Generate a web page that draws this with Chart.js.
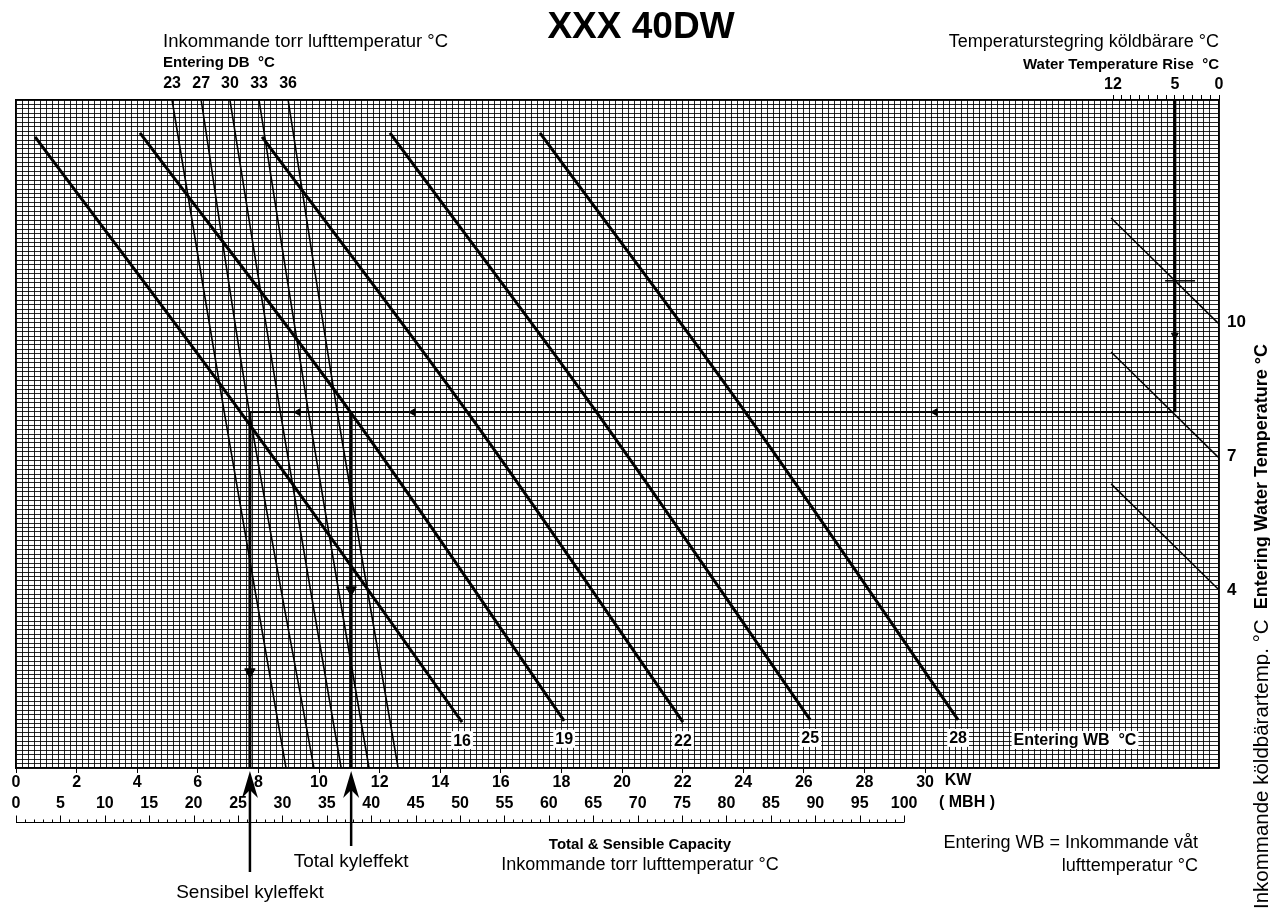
<!DOCTYPE html>
<html><head><meta charset="utf-8">
<script src="https://cdn.jsdelivr.net/npm/chart.js@4.4.1/dist/chart.umd.min.js"></script>
<style>html,body{margin:0;padding:0;background:#fff;overflow:hidden}</style>
</head><body>
<canvas id="c" width="1270" height="913"></canvas>
<script>
// ---------- data ----------
const kwLabelTicks  = [0,2,4,6,8,10,12,14,16,18,20,22,24,26,28,30];
const mbhLabelTicks = [0,5,10,15,20,25,30,35,40,45,50,55,60,65,70,75,80,85,90,95,100];
const riseTickValues  = [0,1,2,3,4,5,6,7,8,9,10,11,12];
const riseLabelValues = [12,5,0];
const ewtTickValues = [4,7,10];

// Entering DB lines (thin): x in kW at y = dbY
const dbLabels = ['23','27','30','33','36'];
const dbX = [[5.15,6.86,8.91],[6.11,7.69,9.83],[7.06,8.71,10.73],[8.02,9.64,11.65],[8.98,10.59,12.61]];
const dbY = [15.0, 8.04, 0.0];

// Entering WB lines (thick)
const wbLabels = ['16','19','22','25','28'];
const wbX = [[0.63,7.53,14.72],[4.09,11.06,18.09],[8.12,14.98,22.01],[12.34,19.18,26.21],[17.29,24.09,31.09]];
const wbY = [[14.17,7.88,1.03],[14.26,7.97,1.06],[14.17,7.91,1.03],[14.26,7.97,1.08],[14.26,7.97,1.08]];

// Entering water temperature lines (right)
const ewtLabels = [10,7,4];
const ewtX = [36.14, 39.67];
const ewtY = [[12.35,9.99],[9.34,6.98],[6.38,4.02]];

// Example reading path
const exRise = 5;
const exTopY = 15.0;
const exEwtY = 7.99;
const exRightKW = 38.22;
const exSensKW = 7.72;
const exTotKW = 11.06;
const exMarkY = 10.94;
const exMarkX = [37.92, 38.91];
const arrowsDown = [{x:7.72,y:2.16},{x:11.06,y:4.0}];
const arrowsLeft = [{x:30.33,y:7.99},{x:13.10,y:7.99},{x:9.31,y:7.99}];
const riseArrow  = [{x:5,y:9.72}];

// scale ranges
const X_MAX = 39.70;        // kW at right border
const MBH_PER_KW = 3.412;
const RISE_MAX = 136.2;     // rise axis value at left border (reversed)

// ---------- chart ----------
const FONT = "'Liberation Sans', Arial, sans-serif";
const GRID = 'rgba(0,0,0,0.85)';
const near = (arr, v) => arr.some(t => Math.abs(t - v) < 1e-6);

const datasets = [];
wbX.forEach((xs,i)=>datasets.push({data:xs.map((x,j)=>({x,y:wbY[i][j]})),showLine:true,borderColor:'#000',borderWidth:3,pointRadius:0,tension:0.35}));
dbX.forEach((xs)=>datasets.push({data:xs.map((x,j)=>({x,y:dbY[j]})),showLine:true,borderColor:'#000',borderWidth:1.6,pointRadius:0,tension:0.35}));
ewtY.forEach((ys)=>datasets.push({data:ewtX.map((x,j)=>({x,y:ys[j]})),showLine:true,borderColor:'#000',borderWidth:1.5,pointRadius:0}));
// example path
datasets.push({xAxisID:'xRise',data:[{x:exRise,y:exTopY},{x:exRise,y:exEwtY}],showLine:true,borderColor:'#000',borderWidth:3,pointRadius:0});
datasets.push({data:[{x:exRightKW,y:exEwtY},{x:exSensKW,y:exEwtY}],showLine:true,borderColor:'#000',borderWidth:1.8,pointRadius:0});
datasets.push({data:[{x:exSensKW,y:exEwtY},{x:exSensKW,y:0}],showLine:true,borderColor:'#000',borderWidth:3,pointRadius:0});
datasets.push({data:[{x:exTotKW,y:exEwtY},{x:exTotKW,y:0}],showLine:true,borderColor:'#000',borderWidth:3,pointRadius:0});
datasets.push({data:exMarkX.map(x=>({x,y:exMarkY})),showLine:true,borderColor:'#000',borderWidth:1.5,pointRadius:0});
datasets.push({data:arrowsDown,pointStyle:'triangle',pointRadius:6,pointRotation:180,backgroundColor:'#000',borderColor:'#000'});
datasets.push({data:arrowsLeft,pointStyle:'triangle',pointRadius:4,pointRotation:270,backgroundColor:'#000',borderColor:'#000'});
datasets.push({xAxisID:'xRise',data:riseArrow,pointStyle:'triangle',pointRadius:4,pointRotation:180,backgroundColor:'#000',borderColor:'#000'});

const textPlugin = {
  id:'texts',
  afterDatasetsDraw(chart){
    const {ctx,scales:{x,y}} = chart;
    ctx.save();
    const box = (s,px,py,font)=>{
      ctx.font=font; const w=ctx.measureText(s).width;
      ctx.fillStyle='#fff'; ctx.fillRect(px-w/2-2,py-9,w+4,18);
      ctx.fillStyle='#000'; ctx.textAlign='center'; ctx.textBaseline='middle'; ctx.fillText(s,px,py+1);
    };
    wbLabels.forEach((s,i)=>{
      box(s, x.getPixelForValue(wbX[i][2]), y.getPixelForValue(wbY[i][2])+18, `bold 16px ${FONT}`);
    });
    box('Entering WB  °C', 1075, 740, `bold 16px ${FONT}`);
    ctx.restore();
  },
  afterDraw(chart){
    const {ctx,scales:{x,xMBH}} = chart;
    ctx.save();
    ctx.fillStyle='#000';
    const t=(s,px,py,font,align='center')=>{ctx.font=font;ctx.textAlign=align;ctx.textBaseline='middle';ctx.fillText(s,px,py);};
    t('XXX 40DW',641,28,`bold 37px ${FONT}`);
    t('Inkommande torr lufttemperatur °C',163,42,`18.5px ${FONT}`,'left');
    t('Entering DB  °C',163,63,`bold 15px ${FONT}`,'left');
    dbLabels.forEach((s,i)=>t(s,x.getPixelForValue(dbX[i][0]),84,`bold 16px ${FONT}`));
    t('Temperaturstegring köldbärare °C',1219,42,`18px ${FONT}`,'right');
    t('Water Temperature Rise  °C',1219,65,`bold 15px ${FONT}`,'right');
    t('KW',958,781,`bold 16px ${FONT}`);
    t('( MBH )',967,803,`bold 16px ${FONT}`);
    t('Total & Sensible Capacity',640,845,`bold 15px ${FONT}`);
    t('Inkommande torr lufttemperatur °C',640,865,`18px ${FONT}`);
    t('Entering WB = Inkommande våt',1198,843,`18px ${FONT}`,'right');
    t('lufttemperatur °C',1198,866,`18px ${FONT}`,'right');
    t('Total kyleffekt',x.getPixelForValue(exTotKW),862,`19px ${FONT}`);
    t('Sensibel kyleffekt',x.getPixelForValue(exSensKW),893,`19px ${FONT}`);
    // ruler under MBH scale
    const ry=822.5;
    ctx.strokeStyle='#000'; ctx.lineWidth=1;
    ctx.beginPath();
    ctx.moveTo(xMBH.getPixelForValue(0),ry); ctx.lineTo(xMBH.getPixelForValue(100),ry);
    for(let v=0;v<=100;v++){
      const px=Math.round(xMBH.getPixelForValue(v))+0.5;
      const h=(v%5===0)?7:3;
      ctx.moveTo(px,ry); ctx.lineTo(px,ry-h);
    }
    ctx.stroke();
    // up arrows below the axis
    const up=(kw,bottom)=>{
      const px=x.getPixelForValue(kw);
      ctx.lineWidth=2.5; ctx.beginPath(); ctx.moveTo(px,785); ctx.lineTo(px,bottom); ctx.stroke();
      ctx.beginPath(); ctx.moveTo(px,771); ctx.lineTo(px+8,798); ctx.lineTo(px,790); ctx.lineTo(px-8,798); ctx.closePath(); ctx.fill();
    };
    up(exSensKW,872); up(exTotKW,846);
    // right rotated title
    ctx.save();
    ctx.translate(1262,909); ctx.rotate(-Math.PI/2);
    ctx.textAlign='left'; ctx.textBaseline='middle';
    ctx.font=`20.5px ${FONT}`;
    const s1='Inkommande köldbärartemp. °C';
    ctx.fillText(s1,0,0);
    const w1=ctx.measureText(s1).width;
    ctx.font=`bold 18px ${FONT}`;
    ctx.fillText('Entering Water Temperature °C',w1+10,0);
    ctx.restore();
    ctx.restore();
  }
};

new Chart(document.getElementById('c'),{
  type:'scatter',
  data:{datasets},
  options:{
    responsive:false, animation:false, devicePixelRatio:1, events:[],
    layout:{padding:{left:16,top:0,right:0,bottom:0}},
    plugins:{legend:{display:false},tooltip:{enabled:false},title:{display:false}},
    scales:{
      x:{type:'linear',position:'bottom',min:0,max:X_MAX,
        ticks:{stepSize:0.2,autoSkip:false,maxRotation:0,padding:0,color:'#000',font:{family:FONT,size:16,weight:'bold'},
          callback:(v)=>near(kwLabelTicks,v)?String(Math.round(v)):''},
        grid:{color:GRID,lineWidth:1,tickLength:5,tickColor:(c)=>near(kwLabelTicks,c.tick.value)?'#000':'rgba(0,0,0,0)'},
        border:{display:true,color:'#000',width:1.5},
        afterFit:(s)=>{s.height=24;}},
      xMBH:{type:'linear',position:'bottom',min:0,max:X_MAX*MBH_PER_KW,
        afterBuildTicks:(s)=>{s.ticks=mbhLabelTicks.map(v=>({value:v}));},
        ticks:{autoSkip:false,maxRotation:0,padding:2,color:'#000',font:{family:FONT,size:16,weight:'bold'}},
        grid:{drawOnChartArea:false,drawTicks:false},
        border:{display:false},
        afterFit:(s)=>{s.height=121;}},
      xRise:{type:'linear',position:'top',reverse:true,min:0,max:RISE_MAX,
        afterBuildTicks:(s)=>{s.ticks=riseTickValues.map(v=>({value:v}));},
        ticks:{autoSkip:false,maxRotation:0,padding:1,color:'#000',font:{family:FONT,size:16,weight:'bold'},
          callback:(v)=>riseLabelValues.includes(v)?String(v):''},
        grid:{drawOnChartArea:false,tickLength:5,color:'#000',lineWidth:1},
        border:{display:true,color:'#000',width:1.5},
        afterFit:(s)=>{s.height=100;}},
      y:{type:'linear',position:'left',min:0,max:15,
        ticks:{stepSize:0.1,display:false},
        grid:{color:GRID,lineWidth:1,drawTicks:false},
        border:{display:true,color:'#000',width:1.5},
        afterFit:(s)=>{s.width=0;}},
      yEWT:{type:'linear',position:'right',min:0,max:15,
        afterBuildTicks:(s)=>{s.ticks=ewtTickValues.map(v=>({value:v}));},
        ticks:{padding:8,color:'#000',font:{family:FONT,size:17,weight:'bold'},callback:(v)=>String(v)},
        grid:{drawOnChartArea:false,drawTicks:false},
        border:{display:true,color:'#000',width:1.5},
        afterFit:(s)=>{s.width=51;}}
    }
  },
  plugins:[textPlugin]
});
</script>
</body></html>
